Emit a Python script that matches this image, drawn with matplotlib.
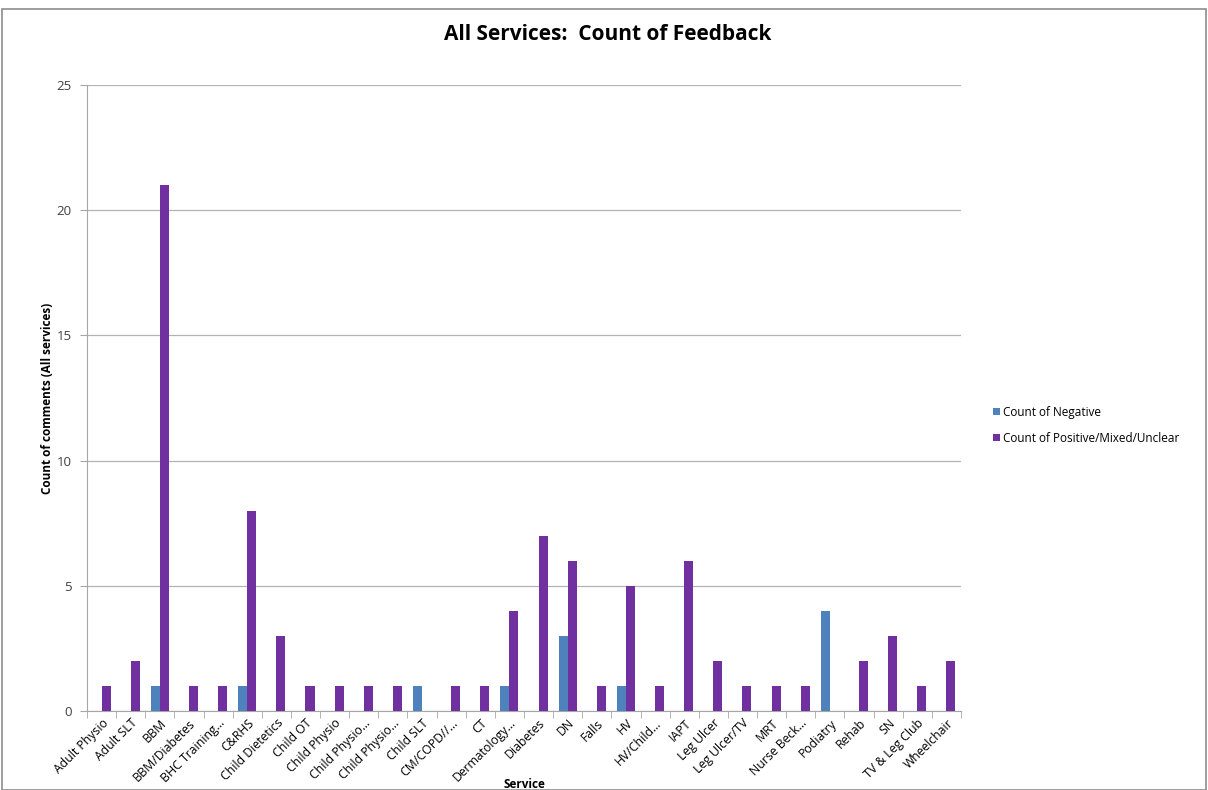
import numpy as np
import matplotlib.pyplot as plt
from matplotlib.patches import Rectangle

services = ["Adult Physio", "Adult SLT", "BBM", "BBM/Diabetes", "BHC Training...",
            "C&RHS", "Child Dietetics", "Child OT", "Child Physio", "Child Physio...",
            "Child Physio...", "Child SLT", "CM/COPD//...", "CT", "Dermatology...",
            "Diabetes", "DN", "Falls", "HV", "HV/Child...", "IAPT", "Leg Ulcer",
            "Leg Ulcer/TV", "MRT", "Nurse Beck...", "Podiatry", "Rehab", "SN",
            "TV & Leg Club", "Wheelchair"]
negative = [0, 0, 1, 0, 0, 1, 0, 0, 0, 0, 0, 1, 0, 0, 1,
            0, 3, 0, 1, 0, 0, 0, 0, 0, 0, 4, 0, 0, 0, 0]
positive = [1, 2, 21, 1, 1, 8, 3, 1, 1, 1, 1, 0, 1, 1, 4,
            7, 6, 1, 5, 1, 6, 2, 1, 1, 1, 0, 2, 3, 1, 2]

plt.rcParams['font.family'] = ['Open Sans', 'DejaVu Sans']

fig = plt.figure(figsize=(12.08, 7.90), dpi=100)
ax = fig.add_axes([0.072, 0.100, 0.7235, 0.7924])

x = np.arange(len(services))
w = 0.31
ax.bar(x - w / 2, negative, width=w, color="#4F81BD", label="Count of Negative", zorder=3)
ax.bar(x + w / 2, positive, width=w, color="#7030A0",
       label="Count of Positive/Mixed/Unclear", zorder=3)

ax.set_xlim(-0.5, len(services) - 0.5)
ax.set_ylim(0, 25)
ax.set_yticks(range(0, 26, 5))
ax.yaxis.grid(True, color="#B3B3B3", linewidth=0.9, zorder=0)

# category ticks sit between the groups
ax.set_xticks(x)
ax.set_xticklabels(services, rotation=45, ha="right", rotation_mode="anchor", fontsize=8.8)
ax.set_xticks(np.arange(-0.5, len(services)), minor=True)
ax.tick_params(axis="x", which="major", length=0, pad=4)
ax.tick_params(axis="x", which="minor", length=5, color="#A6A6A6", direction="out")
ax.tick_params(axis="y", length=5, color="#A6A6A6", labelsize=9.5, labelcolor="#404040", pad=6)

for side in ["top", "right"]:
    ax.spines[side].set_visible(False)
ax.spines["left"].set_color("#A6A6A6")
ax.spines["bottom"].set_color("#A6A6A6")

ax.set_xlabel("Service", fontsize=8.5, fontweight="bold", labelpad=-5)
ax.set_ylabel("Count of comments (All services)", fontsize=8.5, fontweight="bold", labelpad=2)

fig.suptitle("All Services:  Count of Feedback", x=0.503, y=0.97, fontsize=15, fontweight="bold")

fig.legend(loc="center left", bbox_to_anchor=(0.813, 0.462), frameon=False, fontsize=8.5,
           handlelength=0.6, handleheight=0.6, handletextpad=0.3, labelspacing=1.1)

# outer chart border
fig.patches.append(Rectangle((0.002, 0.0), 0.996, 0.989, transform=fig.transFigure,
                             fill=False, edgecolor="#8C8C8C", linewidth=1.2))

fig.savefig("out.png", dpi=100)
